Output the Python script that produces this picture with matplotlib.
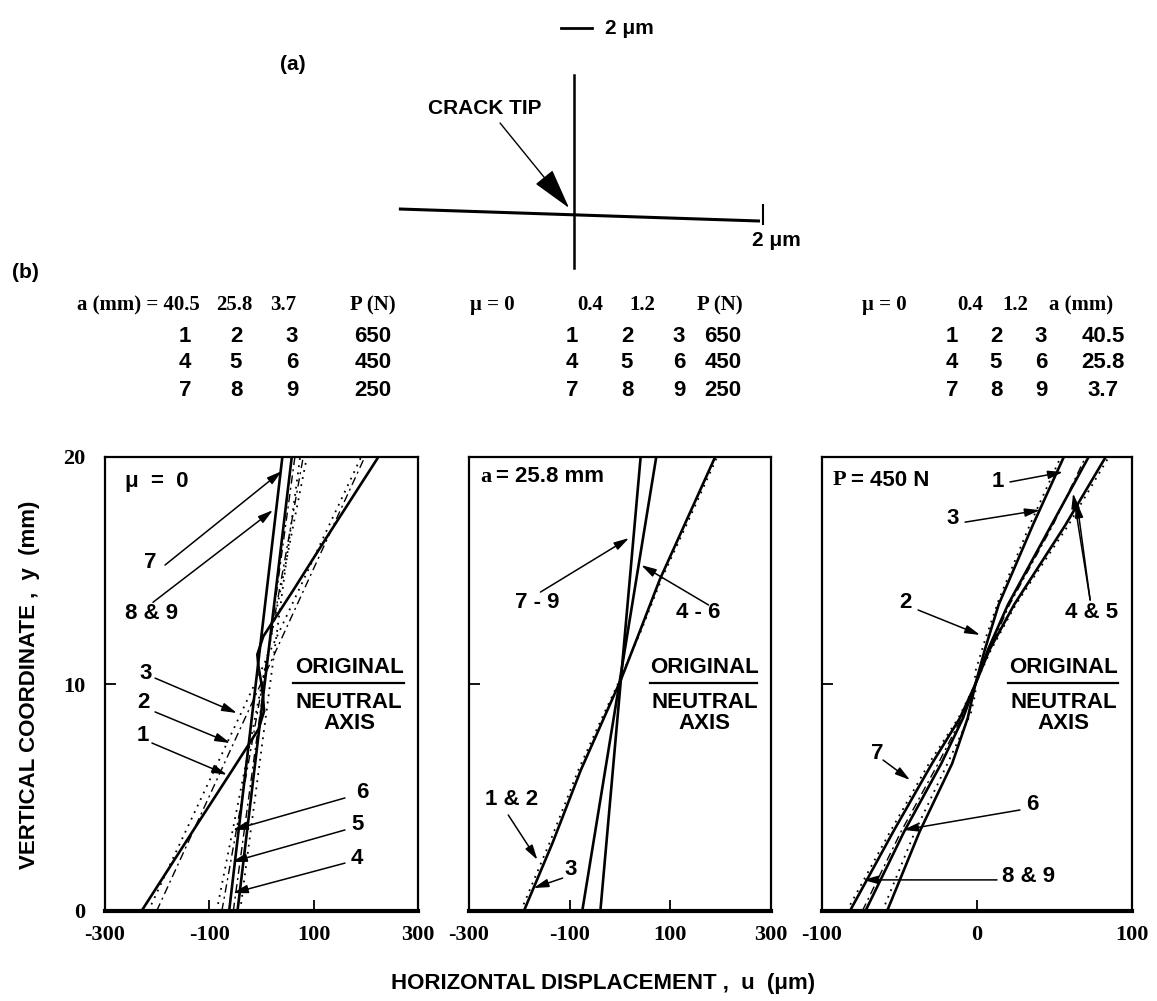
import matplotlib.pyplot as plt

SANS = 'Liberation Sans'
SERIF = 'Liberation Serif'
W, H = 1157, 1001

# ---------------- data ----------------
# (b) left panel, mu = 0 : u (um) vs y (mm)
mu0_y1 = [0, 3.9, 6.1, 8.0, 8.8, 9.4, 10.0, 10.8, 11.3, 12.1, 14.1, 16.5, 20]
mu0_x1 = [-230, -121, -59, -6, 5, 3, 0, -6, -8, 3.5, 60, 126, 224]
mu0_y = [0, 20]
mu0_x2 = [-201, 198]
mu0_x3 = [-217, 191]
mu0_x4 = [-46, 58]
mu0_x5 = [-76, 80]
mu0_x6 = [-86, 87]
mu0_x7 = [-62, 40]
mu0_x8 = [-54, 64]
mu0_x9 = [-41, 74]

# (b) middle panel, a = 25.8 mm
a258_y = [0, 3.0, 6.2, 8.4, 10.2, 12.3, 14.6, 17.3, 20]
a258_x3 = [-191, -134, -78, -34, 2, 39, 79, 134, 189]
a258_x12 = [-197, -140, -83, -38, 0, 41, 82, 138, 193]
a258_yl = [0, 20]
a258_x46 = [-75, 72]
a258_x79 = [-39, 41]

# (b) right panel, P = 450 N
p450_y = [0, 3.5, 6.5, 8.5, 10, 11.5, 13.5, 17, 20]
p450_xA = [-58, -37, -16, -6, -1, 5, 14, 36, 56]
p450_xB = [-72, -47, -23, -9, -1, 7, 20, 48, 72]
p450_xC = [-82, -54, -29, -11, -1, 8, 24, 57, 83]
p450_yAd = [0, 3.5, 6.5, 8.7, 9.6, 10.5, 11.9, 13.7, 17, 20]
p450_xAd = [-61, -40, -19, -4, -1, -1.3, 5, 14, 34, 54]
p450_xBd = [-74, -49, -25, -10, -1, 8, 21, 49, 70]
p450_xCd = [-84, -56, -31, -12, -1, 9, 25, 59, 85]

# (a) crack tip sketch, in um (origin at the crack tip)
sk_vert_x, sk_vert_y = [0, 0], [8.97, -3.48]
sk_hor_x, sk_hor_y = [-11.2, 11.9], [0.32, -0.45]
sk_tick_x, sk_tick_y = [12.2, 12.2], [0.58, -0.65]
sk_bar_x, sk_bar_y = [-0.84, 1.16], [12.0, 12.0]

# tables above the panels
tab_rows1 = [['1', '2', '3', '650'], ['4', '5', '6', '450'], ['7', '8', '9', '250']]
tab_rows3 = [['1', '2', '3', '40.5'], ['4', '5', '6', '25.8'], ['7', '8', '9', '3.7']]


def fx(x):
    return x / W


def fy(y):
    return 1 - y / H


fig = plt.figure(figsize=(W / 100, H / 100), dpi=100)

# ---------------- (a) sketch ----------------
sk = fig.add_axes([fx(380), fy(285), fx(440), 275 / H])
sk.set_xlim((380 - 574) / 15.5, (820 - 574) / 15.5)
sk.set_ylim((214 - 285) / 15.5, (214 - 10) / 15.5)
sk.axis('off')
sk.plot(sk_vert_x, sk_vert_y, color='k', lw=1.8)
sk.plot(sk_hor_x, sk_hor_y, color='k', lw=2.2)
sk.plot(sk_tick_x, sk_tick_y, color='k', lw=1.5)
sk.plot(sk_bar_x, sk_bar_y, color='k', lw=2)
sk.annotate('', xy=(-0.32, 0.39), xytext=(-4.77, 5.87),
            arrowprops=dict(arrowstyle='-|>,head_length=1.3,head_width=0.35',
                            color='k', lw=1, mutation_scale=20, shrinkA=0, shrinkB=0))

bold = dict(fontweight='bold')
fig.text(fx(605), fy(28), '2 \u03bcm', family=SANS, fontsize=15, va='center', **bold)
fig.text(fx(293), fy(65), '(a)', family=SANS, fontsize=15, ha='center', va='center', **bold)
fig.text(fx(485), fy(108), 'CRACK TIP', family=SANS, fontsize=15, ha='center', va='center', **bold)
fig.text(fx(752), fy(240), '2 \u03bcm', family=SANS, fontsize=15, va='center', **bold)
fig.text(fx(25), fy(273), '(b)', family=SANS, fontsize=15, ha='center', va='center', **bold)

# ---------------- tables ----------------
hdr = dict(family=SERIF, fontsize=15, va='center', **bold)
row = dict(family=SANS, fontsize=16, ha='center', va='center', **bold)
row_y = [337, 362, 390]

fig.text(fx(77), fy(305), 'a (mm) = 40.5', **hdr)
for s, x in zip(['25.8', '3.7', 'P (N)'], [234, 283, 373]):
    fig.text(fx(x), fy(305), s, ha='center', **hdr)
for r, y in zip(tab_rows1, row_y):
    for s, x in zip(r, [185, 236, 292, 373]):
        fig.text(fx(x), fy(y), s, **row)

fig.text(fx(470), fy(305), '\u03bc = 0', **hdr)
for s, x in zip(['0.4', '1.2', 'P (N)'], [590, 642, 720]):
    fig.text(fx(x), fy(305), s, ha='center', **hdr)
for r, y in zip(tab_rows1, row_y):
    for s, x in zip(r, [572, 627, 679, 723]):
        fig.text(fx(x), fy(y), s, **row)

fig.text(fx(862), fy(305), '\u03bc = 0', **hdr)
for s, x in zip(['0.4', '1.2', 'a (mm)'], [970, 1015, 1081]):
    fig.text(fx(x), fy(305), s, ha='center', **hdr)
for r, y in zip(tab_rows3, row_y):
    for s, x in zip(r, [952, 996, 1041, 1103]):
        fig.text(fx(x), fy(y), s, **row)

# ---------------- (b) panels ----------------
bot, hgt = fy(911), 454 / H
ax1 = fig.add_axes([fx(105), bot, fx(313), hgt])
ax2 = fig.add_axes([fx(469), bot, fx(302), hgt])
ax3 = fig.add_axes([fx(822), bot, fx(310), hgt])

solid = dict(color='k', lw=1.9, ls='-')
dash = dict(color='k', lw=1.0, ls=(0, (6, 3, 1.5, 3)))
dot = dict(color='k', lw=1.3, ls=(0, (1, 3)))

ax1.plot(mu0_x1, mu0_y1, **solid)
ax1.plot(mu0_x2, mu0_y, **dash)
ax1.plot(mu0_x3, mu0_y, **dot)
ax1.plot(mu0_x4, mu0_y, **solid)
ax1.plot(mu0_x5, mu0_y, **dash)
ax1.plot(mu0_x6, mu0_y, **dot)
ax1.plot(mu0_x7, mu0_y, **solid)
ax1.plot(mu0_x8, mu0_y, **dash)
ax1.plot(mu0_x9, mu0_y, **dot)

ax2.plot(a258_x12, a258_y, **dot)
ax2.plot(a258_x3, a258_y, **solid)
ax2.plot(a258_x46, a258_yl, **solid)
ax2.plot(a258_x79, a258_yl, **solid)

ax3.plot(p450_xAd, p450_yAd, **dot)
ax3.plot(p450_xBd, p450_y, **dash)
ax3.plot(p450_xCd, p450_y, **dot)
ax3.plot(p450_xA, p450_y, **solid)
ax3.plot(p450_xB, p450_y, **solid)
ax3.plot(p450_xC, p450_y, **solid)

for ax, xl, xt in [(ax1, (-300, 300), [-300, -100, 100, 300]),
                   (ax2, (-300, 300), [-300, -100, 100, 300]),
                   (ax3, (-100, 100), [-100, 0, 100])]:
    ax.set_xlim(*xl)
    ax.set_ylim(0, 20)
    ax.set_xticks(xt)
    ax.set_xticklabels([str(v) for v in xt])
    ax.tick_params(direction='in', length=8, width=1.3, top=False, right=False)
    ax.tick_params(axis='x', pad=10)
    for s in ['top', 'right', 'left']:
        ax.spines[s].set_linewidth(1.6)
    ax.spines['bottom'].set_linewidth(3)
    for lbl in ax.get_xticklabels():
        lbl.set_fontfamily(SERIF)
        lbl.set_fontweight('bold')
        lbl.set_fontsize(16)
    # ORIGINAL / NEUTRAL AXIS
    tx = 0.78
    ax.text(tx, 0.537, 'ORIGINAL', transform=ax.transAxes, family=SANS, fontsize=16,
            ha='center', va='center', **bold)
    ax.plot([0.60, 0.955], [0.502, 0.502], transform=ax.transAxes, color='k', lw=1.6)
    ax.text(tx, 0.460, 'NEUTRAL', transform=ax.transAxes, family=SANS, fontsize=16,
            ha='center', va='center', **bold)
    ax.text(tx, 0.414, 'AXIS', transform=ax.transAxes, family=SANS, fontsize=16,
            ha='center', va='center', **bold)

ax1.set_yticks([0, 10, 20])
ax1.set_yticklabels(['0', '10', '20'])
ax1.tick_params(axis='y', pad=14)
for lbl in ax1.get_yticklabels():
    lbl.set_fontfamily(SERIF)
    lbl.set_fontweight('bold')
    lbl.set_fontsize(16)
for ax in (ax2, ax3):
    ax.set_yticks([10])
    ax.set_yticklabels([])

arrow = dict(arrowstyle='-|>,head_length=0.9,head_width=0.25', color='k', lw=1.1,
             mutation_scale=10, shrinkA=0, shrinkB=0)
note = dict(family=SANS, fontsize=16, ha='center', va='center', **bold)

# label text position, arrow tail, arrow tip (data coordinates of each panel)
notes1 = [('7', (-214, 15.37), [((-185, 15.24), (39, 19.38))]),
          ('8 & 9', (-210, 13.1), [((-208, 13.6), (22, 17.66))]),
          ('3', (-223, 10.48), [((-204, 10.26), (-47, 8.72))]),
          ('2', (-227, 9.2), [((-204, 8.77), (-60, 7.4))]),
          ('1', (-227, 7.75), [((-210, 7.4), (-66, 6.0))]),
          ('6', (193, 5.24), [((160, 4.98), (-55, 3.57))]),
          ('5', (185, 3.79), [((160, 3.57), (-57, 2.16))]),
          ('4', (183, 2.33), [((160, 2.11), (-55, 0.79))])]
notes2 = [('7 - 9', (-164, 13.57), [((-158, 14.05), (18, 16.43))]),
          ('4 - 6', (156, 13.13), [((176, 13.48), (42, 15.24))]),
          ('1 & 2', (-216, 4.89), [((-222, 4.23), (-164, 2.25))]),
          ('3', (-98, 1.81), [((-114, 1.45), (-172, 1.01))])]
notes3 = [('1', (13.5, 18.9), [((21.3, 18.9), (55.5, 19.34))]),
          ('3', (-15.5, 17.3), [((-7.7, 17.13), (40.6, 17.66))]),
          ('4 & 5', (74, 13.13), [((73, 13.7), (62, 18.4)), ((73, 13.7), (64.5, 18.0))]),
          ('2', (-46.4, 13.57), [((-38, 13.26), (2, 12.16))]),
          ('7', (-64.5, 6.96), [((-60.6, 6.65), (-43.2, 5.77))]),
          ('6', (35.5, 4.67), [((27.7, 4.45), (-47.7, 3.57))]),
          ('8 & 9', (33, 1.5), [((12.9, 1.37), (-73.5, 1.37))])]

for ax, notes in [(ax1, notes1), (ax2, notes2), (ax3, notes3)]:
    for txt, pos, arrows in notes:
        ax.text(pos[0], pos[1], txt, **note)
        for tail, tip in arrows:
            ax.annotate('', xy=tip, xytext=tail, arrowprops=arrow)

fig.text(fx(125), fy(482), '\u03bc  =  0', family=SANS, fontsize=16, va='center', **bold)
fig.text(fx(480), fy(477), 'a', family=SERIF, fontsize=16, va='center', **bold)
fig.text(fx(496), fy(477), '= 25.8 mm', family=SANS, fontsize=16, va='center', **bold)
fig.text(fx(833), fy(480), 'P', family=SERIF, fontsize=16, va='center', **bold)
fig.text(fx(851), fy(480), '= 450 N', family=SANS, fontsize=16, va='center', **bold)

fig.text(fx(603), fy(983), 'HORIZONTAL DISPLACEMENT ,  u  (\u03bcm)', family=SANS,
         fontsize=16, ha='center', va='center', **bold)
fig.text(fx(30), fy(685), 'VERTICAL COORDINATE ,  y  (mm)', family=SANS, fontsize=16,
         ha='center', va='center', rotation=90, **bold)

fig.savefig('out.png', dpi=100)
